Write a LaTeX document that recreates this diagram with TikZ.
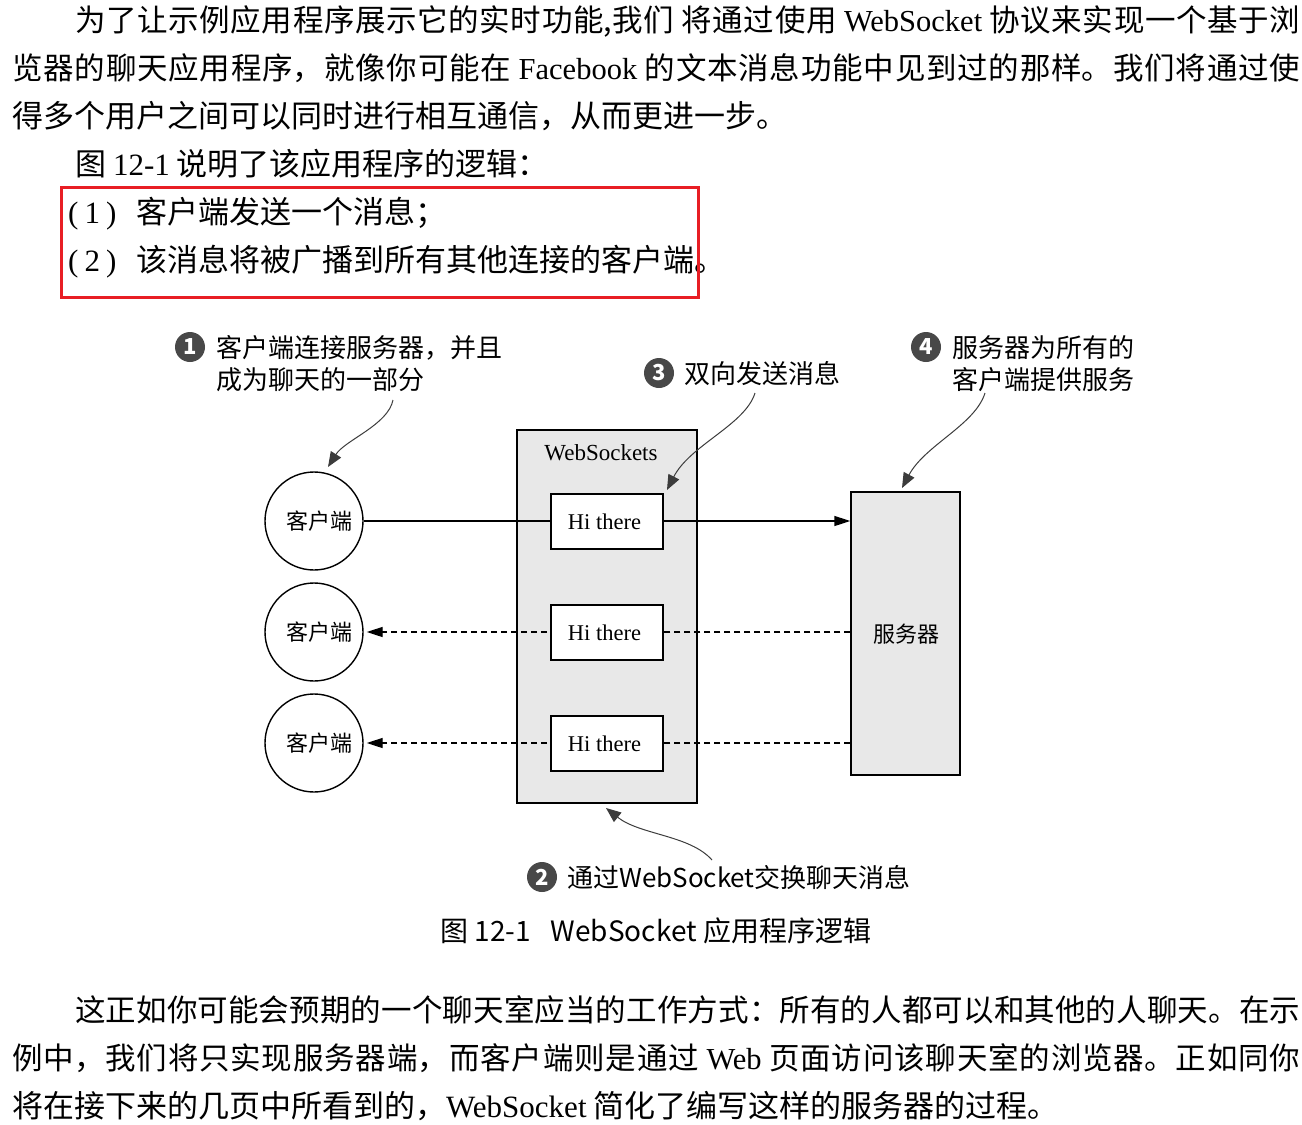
\documentclass[tikz,border=0pt]{standalone}
\usepackage{fontspec}
\setmainfont{Liberation Serif}
\newfontfamily\cjk{Noto Sans CJK SC}
\usetikzlibrary{arrows.meta}
\XeTeXlinebreaklocale "zh"
\XeTeXlinebreakskip=0pt plus 4pt minus 0.4pt
\newcommand\rmw[1]{{\rmfamily #1}}
\newcommand\parenum[1]{\makebox[71pt][l]{\hspace{3pt}\rmw{(\hspace{6pt}#1\hspace{6pt})}}}
\definecolor{boxgray}{RGB}{232,232,232}
\definecolor{numgray}{RGB}{72,72,72}
\definecolor{curvegray}{RGB}{60,60,60}
\definecolor{boxred}{RGB}{232,30,36}
\tikzset{
  bodytext/.style={anchor=base west, inner sep=0pt, font=\cjk\fontsize{30.5}{36}\selectfont},
  widebody/.style={bodytext, font=\cjk\fontsize{31}{36}\selectfont},
  client/.style={circle, draw, line width=1.4pt, minimum size=98pt, inner sep=0pt, font=\cjk\fontsize{22}{22}\selectfont},
  hibox/.style={rectangle, draw, line width=1.4pt, fill=white, minimum width=112pt, minimum height=55pt, inner sep=0pt, font=\fontsize{22.5}{22}\selectfont},
  graybox/.style={rectangle, draw, line width=1.4pt, fill=boxgray, inner sep=0pt},
  num/.style={circle, fill=numgray, text=white, minimum size=30pt, inner sep=0pt, font=\cjk\bfseries\fontsize{22}{22}\selectfont},
  note/.style={anchor=base west, inner sep=0pt, font=\cjk\fontsize{26}{32}\selectfont},
  callarrow/.style={draw=curvegray, line width=1pt, -{Triangle[length=15pt,width=12pt]}},
  conn/.style={line width=1.4pt},
  connarrow/.style={-{Triangle[length=16pt,width=10pt]}},
  dashconn/.style={line width=1.4pt, dash pattern=on 6pt off 4pt},
  redframe/.style={draw=boxred, line width=3pt, inner sep=0pt}
}
\begin{document}
\begin{tikzpicture}[x=1pt,y=-1pt]
\useasboundingbox (0,0) rectangle (1302,1125);
\fill[white] (0,0) rectangle (1302,1125);

% ---------- body text, top ----------
\node[bodytext] (p1) at (75,31.5) {\parbox[b]{1225pt}{\parfillskip=0pt 为了让示例应用程序展示它的实时功能,我们 将通过使用 \rmw{WebSocket} 协议来实现一个基于浏}};
\node[bodytext] (p2) at (12,79.5) {\parbox[b]{1288pt}{\parfillskip=0pt 览器的聊天应用程序，就像你可能在 \rmw{Facebook} 的文本消息功能中见到过的那样。我们将通过使}};
\node[widebody] (p3) at (12,127.5) {得多个用户之间可以同时进行相互通信，从而更进一步。};
\node[widebody] (p4) at (75,175.5) {图 \rmw{12-1} 说明了该应用程序的逻辑：};
\node[widebody] (p5) at (65,223.5) {\parenum{1}客户端发送一个消息；};
\node[widebody] (p6) at (65,271.5) {\parenum{2}该消息将被广播到所有其他连接的客户端。};
\node[redframe, minimum width=637pt, minimum height=110pt] (redbox) at (379.5,242) {};

% ---------- diagram ----------
\node[graybox, minimum width=180pt, minimum height=373pt] (ws) at (607,616.5) {};
\node[inner sep=0pt, font=\fontsize{23}{23}\selectfont] (wslabel) at (601,453) {WebSockets};
\node[graybox, minimum width=109pt, minimum height=283pt] (srv) at (905.5,633.5) {};
\node[inner sep=0pt, font=\cjk\fontsize{22}{22}\selectfont] (srvlabel) at (906,634) {服务器};

\node[client] (cl1) at (314,521) {\hspace*{10pt}客户端};
\node[client] (cl2) at (314,632) {\hspace*{10pt}客户端};
\node[client] (cl3) at (314,743) {\hspace*{10pt}客户端};

% connectors (drawn over the WebSockets box)
\draw[conn] (cl1.east) -- (607,521);
\draw[conn,connarrow] (607,521) -- (srv.west |- cl1.east);
\draw[dashconn] (srv.west |- cl2.east) -- (607,632);
\draw[dashconn,connarrow,shorten >=3pt] (607,632) -- (cl2.east);
\draw[dashconn] (srv.west |- cl3.east) -- (607,743);
\draw[dashconn,connarrow,shorten >=3pt] (607,743) -- (cl3.east);

\node[hibox] (hi1) at (607,521.5) {Hi there\hspace*{5pt}};
\node[hibox] (hi2) at (607,632.5) {Hi there\hspace*{5pt}};
\node[hibox] (hi3) at (607,743.5) {Hi there\hspace*{5pt}};

% ---------- callouts ----------
\node[num] (n1) at (190,347) {1};
\node[note] (t1a) at (216,357) {客户端连接服务器，并且};
\node[note] (t1b) at (216,389) {成为聊天的一部分};

\node[num] (n3) at (659,373) {3};
\node[note] (t3) at (684,383) {双向发送消息};

\node[num] (n4) at (926,347) {4};
\node[note] (t4a) at (952,357) {服务器为所有的};
\node[note] (t4b) at (952,389) {客户端提供服务};

\node[num] (n2) at (542,877) {2};
\node[note] (t2) at (567,887) {通过WebSocket交换聊天消息};

\coordinate (a1s) at (393,400);
\coordinate (a1e) at (328,467);
\coordinate (a3s) at (755,393);
\coordinate (a3e) at (667,490);
\coordinate (a4s) at (985,393);
\coordinate (a4e) at (902,488);
\coordinate (a2s) at (712,860);
\coordinate (a2e) at (606,808);

\draw[callarrow] (a1s) .. controls (388,425) and (345,440) .. (a1e);
\draw[callarrow] (a3s) .. controls (745,425) and (690,445) .. (a3e);
\draw[callarrow] (a4s) .. controls (975,425) and (925,445) .. (a4e);
\draw[callarrow] (a2s) .. controls (690,835) and (640,835) .. (a2e);

% ---------- caption ----------
\node[anchor=base west, inner sep=0pt, font=\cjk\fontsize{28}{28}\selectfont] (cap) at (440,941) {图 12-1\hspace{20pt}WebSocket 应用程序逻辑};

% ---------- body text, bottom ----------
\node[bodytext] (q1) at (75,1021.5) {\parbox[b]{1225pt}{\parfillskip=0pt 这正如你可能会预期的一个聊天室应当的工作方式：所有的人都可以和其他的人聊天。在示}};
\node[bodytext] (q2) at (12,1069.5) {\parbox[b]{1288pt}{\parfillskip=0pt 例中，我们将只实现服务器端，而客户端则是通过 \rmw{Web} 页面访问该聊天室的浏览器。正如同你}};
\node[widebody] (q3) at (12,1117.5) {将在接下来的几页中所看到的，\rmw{WebSocket} 简化了编写这样的服务器的过程。};
\end{tikzpicture}
\end{document}
